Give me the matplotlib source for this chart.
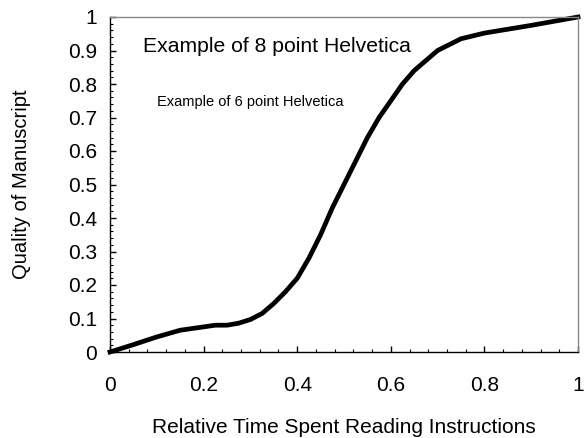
import matplotlib
matplotlib.use("Agg")
import matplotlib.pyplot as plt
from matplotlib.ticker import MultipleLocator

plt.rcParams['font.family'] = ['Liberation Sans', 'DejaVu Sans']

time_spent = [0.0, 0.05, 0.1, 0.15, 0.2, 0.225, 0.25, 0.275, 0.3, 0.325, 0.35, 0.375,
              0.4, 0.425, 0.45, 0.475, 0.5, 0.525, 0.55, 0.575, 0.6, 0.625, 0.65,
              0.7, 0.75, 0.8, 0.9, 1.0]
quality = [0.0, 0.022, 0.045, 0.065, 0.075, 0.08, 0.08, 0.086, 0.097, 0.115, 0.145, 0.18,
           0.22, 0.28, 0.35, 0.43, 0.5, 0.57, 0.64, 0.7, 0.75, 0.8, 0.84,
           0.9, 0.935, 0.952, 0.975, 1.0]
x_ticks = [0, 0.2, 0.4, 0.6, 0.8, 1]
x_ticklabels = ["0", "0.2", "0.4", "0.6", "0.8", "1"]
y_ticks = [0, 0.1, 0.2, 0.3, 0.4, 0.5, 0.6, 0.7, 0.8, 0.9, 1]
y_ticklabels = ["0", "0.1", "0.2", "0.3", "0.4", "0.5", "0.6", "0.7", "0.8", "0.9", "1"]

fig = plt.figure(figsize=(5.84, 4.38), dpi=100)
ax = fig.add_axes([110/584, 1 - 352/438, 468/584, 335/438])
ax.plot(time_spent, quality, color='black', lw=3.4, solid_joinstyle='miter', clip_on=False)
ax.set_xlim(0, 1)
ax.set_ylim(0, 1)
ax.set_xticks(x_ticks)
ax.set_xticklabels(x_ticklabels)
ax.set_yticks(y_ticks)
ax.set_yticklabels(y_ticklabels)
ax.xaxis.set_minor_locator(MultipleLocator(0.04))
ax.yaxis.set_minor_locator(MultipleLocator(0.02))
ax.tick_params(which='major', direction='in', length=4.5, width=1, labelsize=15,
               top=False, right=False)
ax.tick_params(axis='x', which='major', pad=17)
ax.tick_params(axis='y', which='major', pad=9.5)
ax.tick_params(which='minor', direction='in', length=2.5, width=0.8, top=False, right=False)
for s in ['left', 'bottom']:
    ax.spines[s].set_color('black')
    ax.spines[s].set_linewidth(1.0)
for s in ['top', 'right']:
    ax.spines[s].set_color('#888888')
    ax.spines[s].set_linewidth(1.0)
ax.set_xlabel("Relative Time Spent Reading Instructions", fontsize=15)
ax.xaxis.set_label_coords(0.5, (352 - 418) / 335)
ax.set_ylabel("Quality of Manuscript", fontsize=14.5)
ax.yaxis.set_label_coords((31 - 110) / 468, 0.5)
ax.text(143/584, 1 - 47/438, "Example of 8 point Helvetica", transform=fig.transFigure,
        fontsize=15.2, va='center', ha='left')
ax.text(157/584, 1 - 102/438, "Example of 6 point Helvetica", transform=fig.transFigure,
        fontsize=10.5, va='center', ha='left')
fig.savefig("out.png", dpi=100)
